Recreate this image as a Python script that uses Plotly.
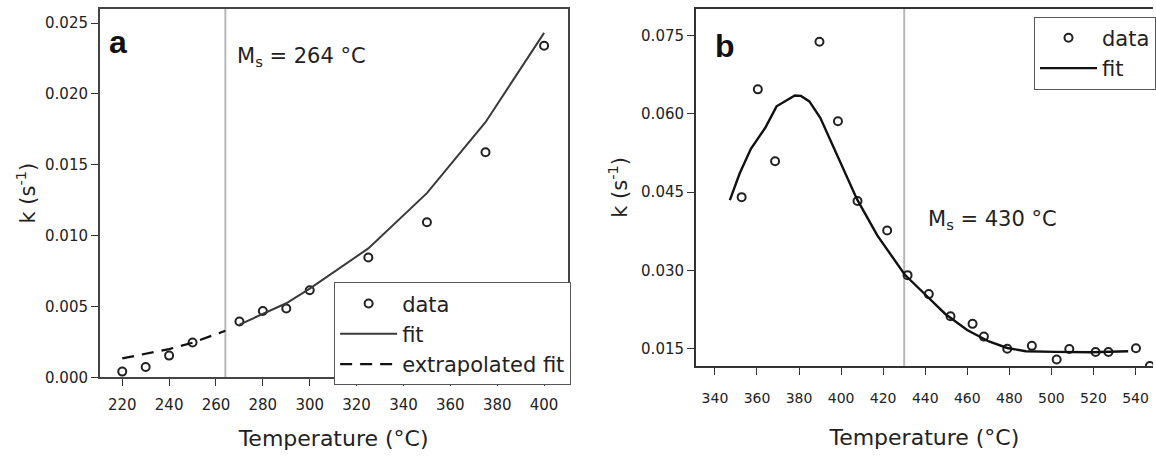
import plotly.graph_objects as go

# ---------------- data ----------------
a_temp = [220, 230, 240, 250, 270, 280, 290, 300, 325, 350, 375, 400]
a_k = [0.00041, 0.00074, 0.00154, 0.00247, 0.00394, 0.00468, 0.00486,
       0.00615, 0.00846, 0.01094, 0.01588, 0.02339]
a_fit_temp = [270, 280, 290, 300, 325, 350, 375, 400]
a_fit_k = [0.00373, 0.00449, 0.00523, 0.00627, 0.0091, 0.0130, 0.0180, 0.0243]
a_ext_temp = [220, 230, 240, 250, 264]
a_ext_k = [0.00134, 0.00165, 0.0020, 0.00245, 0.00329]
a_ms = 264

b_temp = [352.7, 360.4, 368.6, 389.7, 398.5, 407.8, 421.9, 431.6, 441.7, 452.0,
          462.5, 467.9, 479.0, 490.7, 502.5, 508.5, 521.0, 527.1, 540.2, 546.8]
b_k = [0.04406, 0.06469, 0.05094, 0.0738, 0.0586, 0.04331, 0.03769, 0.02913,
       0.0255, 0.02125, 0.01981, 0.01737, 0.01506, 0.0156, 0.0130, 0.0150,
       0.01444, 0.01444, 0.01513, 0.01175]
b_fit_temp = [347.1, 351.8, 357.1, 364.0, 369.3, 373.6, 378.0, 380.9, 384.9,
              390.1, 397.1, 402.4, 407.6, 417.2, 425.0, 430.2, 439.0, 449.4,
              459.9, 470.3, 479.0, 487.8, 501.7, 519.1, 536.5]
b_fit_k = [0.0435, 0.04863, 0.05331, 0.05738, 0.06144, 0.06238, 0.0635, 0.06344,
           0.06238, 0.05925, 0.0530, 0.0480, 0.04363, 0.03675, 0.03238, 0.02925,
           0.02581, 0.02175, 0.01863, 0.01644, 0.01519, 0.01456, 0.01444, 0.01438,
           0.01456]
b_ms = 430

W, H = 1156, 458
FONT = "DejaVu Sans"
TXT = "#222222"

def px(x):
    return x / W

def py(y):
    return 1 - y / H

fig = go.Figure()

mk = dict(symbol="circle-open", size=8, color="#222222", line=dict(width=2, color="#222222"))

fig.add_trace(go.Scatter(x=a_temp, y=a_k, mode="markers", name="data", marker=mk,
                         xaxis="x", yaxis="y", legend="legend"))
fig.add_trace(go.Scatter(x=a_fit_temp, y=a_fit_k, mode="lines", name="fit",
                         line=dict(color="#3a3a3a", width=2), xaxis="x", yaxis="y",
                         legend="legend"))
fig.add_trace(go.Scatter(x=a_ext_temp, y=a_ext_k, mode="lines", name="extrapolated fit",
                         line=dict(color="#111111", width=2.2, dash="12px,8px"),
                         xaxis="x", yaxis="y", legend="legend"))

fig.add_trace(go.Scatter(x=b_temp, y=b_k, mode="markers", name="data", marker=mk,
                         xaxis="x2", yaxis="y2", legend="legend2"))
fig.add_trace(go.Scatter(x=b_fit_temp, y=b_fit_k, mode="lines", name="fit",
                         line=dict(color="#111111", width=2.4), xaxis="x2", yaxis="y2",
                         legend="legend2"))

axis_common = dict(showgrid=False, zeroline=False, showline=True, ticks="outside",
                   ticklen=7, tickwidth=1.2, tickcolor="#333333")

fig.update_layout(
    width=W, height=H,
    margin=dict(l=0, r=0, t=0, b=0),
    paper_bgcolor="white", plot_bgcolor="white",
    font=dict(family=FONT, color=TXT),
    xaxis=dict(**axis_common, domain=[px(100), px(569)], range=[210.4, 410],
               tick0=220, dtick=20, linecolor="#444444", linewidth=1.5, mirror=True,
               anchor="y", ticklabelstandoff=6,
               tickfont=dict(family=FONT, size=15, color=TXT),
               title=dict(text="Temperature (°C)", font=dict(family=FONT, size=22, color=TXT),
                          standoff=17)),
    yaxis=dict(**axis_common, domain=[py(385), py(9)], range=[0, 0.026],
               tick0=0, dtick=0.005, tickformat=".3f", linecolor="#444444",
               linewidth=1.5, mirror=True, anchor="x",
               tickfont=dict(family=FONT, size=15, color=TXT),
               title=dict(text="k (s<sup>-1</sup>)", font=dict(family=FONT, size=21, color=TXT),
                          standoff=4)),
    xaxis2=dict(**axis_common, domain=[px(697.6), 1.0], range=[330.9, 548.3],
                tick0=340, dtick=20, linecolor="#333333", linewidth=1.5, mirror=True,
                anchor="y2", ticklabelstandoff=11,
                tickfont=dict(family=FONT, size=14, color=TXT),
                title=dict(text="Temperature (°C)", font=dict(family=FONT, size=22, color=TXT),
                           standoff=25)),
    yaxis2=dict(**axis_common, domain=[py(373.3), py(9)], range=[0.01175, 0.0801],
                tick0=0.015, dtick=0.015, tickformat=".3f", linecolor="#333333",
                linewidth=1.5, mirror=False, anchor="x2",
                tickfont=dict(family=FONT, size=15, color=TXT),
                title=dict(text="k (s<sup>-1</sup>)", font=dict(family=FONT, size=21, color=TXT),
                           standoff=8)),
    legend=dict(x=px(335), y=py(288), xanchor="left", yanchor="top",
                bgcolor="white", bordercolor="#555555", borderwidth=1,
                font=dict(family=FONT, size=21, color=TXT), itemwidth=57,
                tracegroupgap=0),
    legend2=dict(x=px(1037), y=py(17), xanchor="left", yanchor="top",
                 bgcolor="white", bordercolor="#555555", borderwidth=1,
                 font=dict(family=FONT, size=21, color=TXT), itemwidth=57,
                 tracegroupgap=0),
    showlegend=True,
)

# M_s vertical lines
fig.add_shape(type="line", xref="x", yref="y domain", x0=a_ms, x1=a_ms, y0=0, y1=1,
              line=dict(color="#b8b8b8", width=2), layer="below")
fig.add_shape(type="line", xref="x2", yref="y2 domain", x0=b_ms, x1=b_ms, y0=0, y1=1,
              line=dict(color="#b8b8b8", width=2), layer="below")

fig.add_annotation(text="<b>a</b>", xref="paper", yref="paper", x=px(107), y=py(22),
                   xanchor="left", yanchor="top", showarrow=False,
                   font=dict(family="Liberation Sans", size=32, color="#111111"))
fig.add_annotation(text="<b>b</b>", xref="paper", yref="paper", x=px(715), y=py(27),
                   xanchor="left", yanchor="top", showarrow=False,
                   font=dict(family="Liberation Sans", size=32, color="#111111"))
fig.add_annotation(text=f"M<sub>s</sub> = {a_ms} °C", xref="paper", yref="paper",
                   x=px(236), y=py(58), xanchor="left", yanchor="middle", showarrow=False,
                   font=dict(family=FONT, size=21, color=TXT))
fig.add_annotation(text=f"M<sub>s</sub> = {b_ms} °C", xref="paper", yref="paper",
                   x=px(928), y=py(224), xanchor="left", yanchor="middle", showarrow=False,
                   font=dict(family=FONT, size=21, color=TXT))

fig.write_html("out.html", config={"displayModeBar": False},
               post_script="document.body.style.margin='0';document.body.style.overflow='hidden';")
